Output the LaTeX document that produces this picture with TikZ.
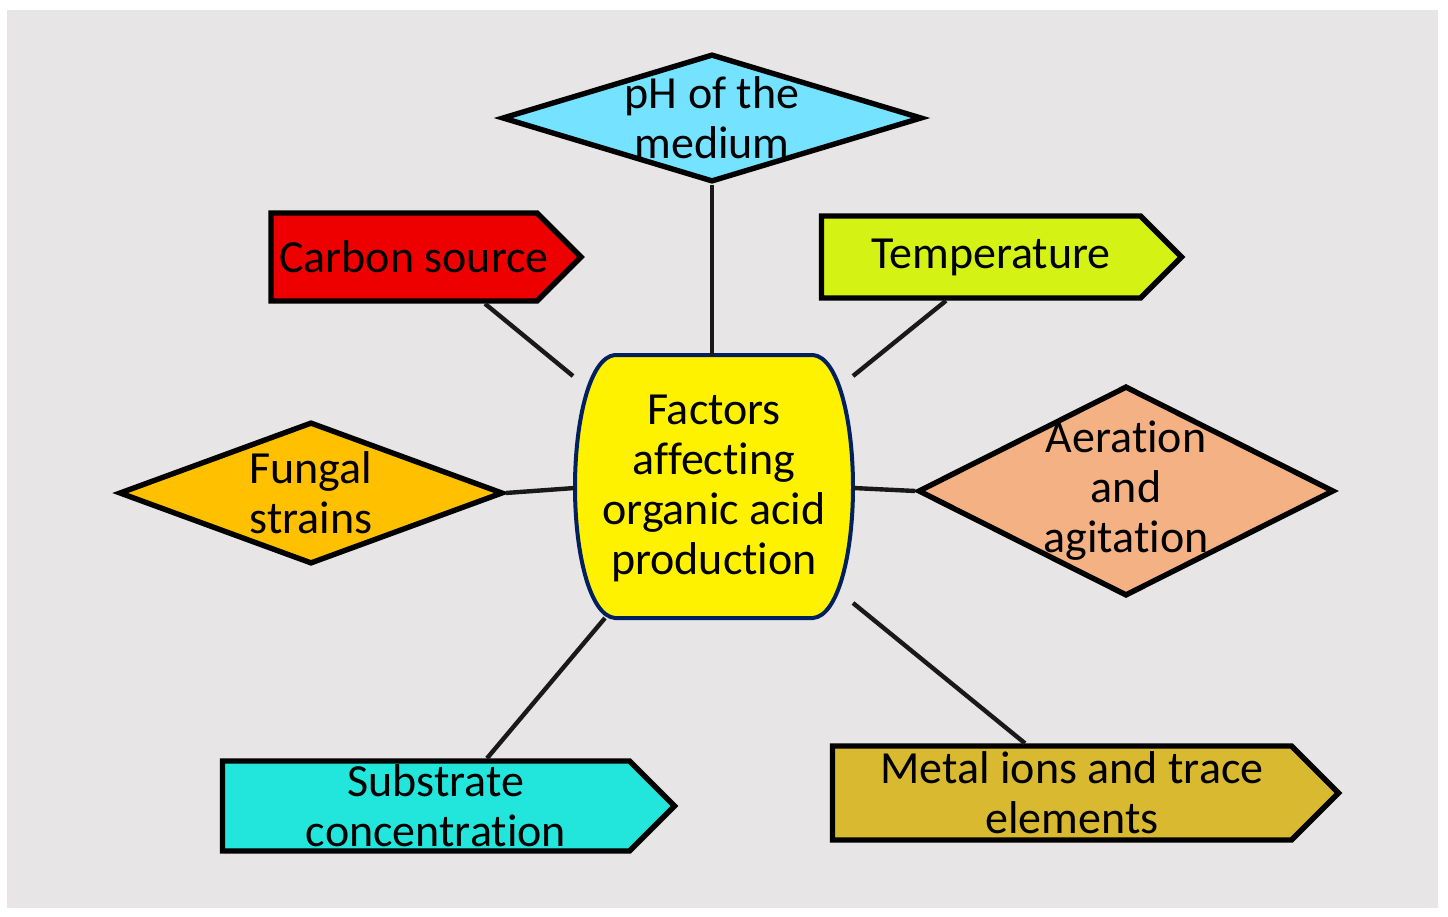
\documentclass[tikz,border=0pt]{standalone}
\usepackage{fontspec}
\setmainfont{Carlito}[Ligatures=NoCommon]
\usetikzlibrary{positioning}
\usetikzlibrary{shapes.geometric}
\usetikzlibrary{shapes.symbols}

\definecolor{bgGray}{HTML}{E7E5E6}
\definecolor{phBlue}{HTML}{75E3FF}
\definecolor{carbRed}{HTML}{EE0000}
\definecolor{tempGreen}{HTML}{D4F214}
\definecolor{fungOrange}{HTML}{FFC000}
\definecolor{aerPeach}{HTML}{F4B183}
\definecolor{subsCyan}{HTML}{22E5DC}
\definecolor{metalGold}{HTML}{D9B930}
\definecolor{ctrNavy}{HTML}{002060}

\newcommand{\tipgap}{\hspace*{10pt}}

\begin{document}
\begin{tikzpicture}[x=0.5pt,y=-0.5pt,
                          factor/.style={draw=black, line width=2.7pt, font=\fontsize{23}{25}\selectfont, align=center},
                          diamondnode/.style={factor, diamond, inner xsep=-60pt, inner ysep=-40pt},
                          signalnode/.style={factor, signal, signal to=east, signal pointer angle=90, inner xsep=-15pt, inner ysep=0pt},
                          link/.style={line width=2.2pt, draw=black!90},
                      ]
                      \useasboundingbox (0,0) rectangle (1448,917);
                      \fill[bgGray] (7,10) rectangle (1438,908);

                      %Centre
                      \draw[fill=yellow, draw=ctrNavy, line width=2pt] (615,355) -- (813,355)
                          .. controls (838,357) and (853,420) .. (853,487)
                          .. controls (853,554) and (838,616) .. (813,618) -- (615,618)
                          .. controls (590,616) and (575,554) .. (575,487)
                          .. controls (575,420) and (590,357) .. (615,355) -- cycle;
                      \node[font=\fontsize{23}{25}\selectfont, align=center, minimum width=139pt, minimum height=131.5pt, inner sep=0pt] (ctr) at (714,488) {Factors\\affecting\\organic acid\\production};

                      %Nodes
                      \node[diamondnode, fill=phBlue, minimum width=210pt, minimum height=64pt]      (ph)    at (712,118)  {pH of the\\medium};
                      \node[diamondnode, fill=fungOrange, minimum width=192pt, minimum height=71pt]  (fung)  at (311,493)  {Fungal\\strains};
                      \node[diamondnode, fill=aerPeach, minimum width=208pt, minimum height=105pt]   (aer)   at (1126,491) {Aeration\\and\\agitation};
                      \node[signalnode, fill=carbRed, minimum width=155pt, minimum height=44pt]      (carb)  at (404,257)  {\tipgap Carbon source};
                      \node[signalnode, fill=tempGreen, minimum width=180pt, minimum height=41pt]    (temp)  at (981,257)  {\tipgap Temperature};
                      \node[signalnode, fill=subsCyan, minimum width=226pt, minimum height=45pt]     (subs)  at (426,806)  {\tipgap Substrate\\\tipgap concentration};
                      \node[signalnode, fill=metalGold, minimum width=253pt, minimum height=47pt]    (metal) at (1062,793) {\tipgap Metal ions and trace\\\tipgap elements};

                      %Free ends near the centre
                      \coordinate (nw) at (573,376);
                      \coordinate (ne) at (853,376);
                      \coordinate (sw) at (605,618);
                      \coordinate (se) at (853,603);

                      %Lines
                      \draw[link] (ph.south) -- (ph.south |- ctr.north);
                      \draw[link] ([xshift=40.5pt]carb.south) -- (nw);
                      \draw[link] ([xshift=-17.5pt]temp.south) -- (ne);
                      \draw[link] (fung.east) -- (ctr.west);
                      \draw[link] (ctr.east) -- (aer.west);
                      \draw[link] ([xshift=30.5pt]subs.north) -- (sw);
                      \draw[link] ([xshift=-18.5pt]metal.north) -- (se);
                  \end{tikzpicture}
\end{document}
